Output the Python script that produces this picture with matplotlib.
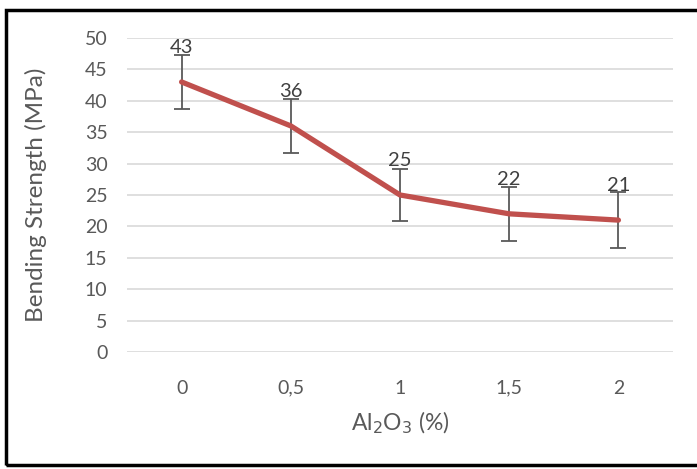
import numpy as np
import matplotlib.pyplot as plt
from matplotlib.patches import Rectangle

# data
categories = ['0', '0,5', '1', '1,5', '2']
strength = [43, 36, 25, 22, 21]
errors = [4.3, 4.3, 4.2, 4.3, 4.4]

plt.rcParams['font.family'] = ['Lato', 'DejaVu Sans']

fig = plt.figure(figsize=(6.97, 4.69), dpi=100)
ax = fig.add_axes([0.1822, 0.2495, 0.7834, 0.6695])

x = np.arange(len(categories))
ax.errorbar(x, strength, yerr=errors, fmt='none', ecolor='#595959',
            elinewidth=1.3, capsize=6, capthick=1.3, zorder=2)
ax.plot(x, strength, color='#C0504D', lw=3.8, solid_capstyle='round', zorder=3)

# data labels above points
for xi, v in zip(x, strength):
    ax.annotate(str(v), (xi, v), xytext=(0, 25), textcoords='offset points',
                ha='center', va='center', fontsize=14.5, color='#404040', zorder=4)

ax.set_xlim(-0.5, len(categories) - 0.5)
ax.set_ylim(0, 50)
ax.set_yticks(np.arange(0, 51, 5))
ax.set_xticks(x)
ax.set_xticklabels(categories)
ax.yaxis.grid(True, color='#D9D9D9', lw=1.2)
ax.set_axisbelow(True)
for s in ax.spines.values():
    s.set_visible(False)
ax.tick_params(axis='both', length=0, labelsize=14, labelcolor='#595959')
ax.tick_params(axis='y', pad=14)
ax.tick_params(axis='x', pad=20)

ax.set_ylabel('Bending Strength (MPa)', fontsize=17.5, color='#595959')
ax.yaxis.set_label_coords(-0.146, 0.5)
ax.set_xlabel('Al$_2$O$_3$ (%)', fontsize=16.5, color='#595959')
ax.xaxis.set_label_coords(0.5, -0.183)

# black frame around the chart
fig.patches.append(Rectangle((6 / 697, 4 / 469), 1.0, 455 / 469, transform=fig.transFigure,
                             fill=False, edgecolor='black', lw=2.5, zorder=10))

fig.savefig('out.png', dpi=100)
